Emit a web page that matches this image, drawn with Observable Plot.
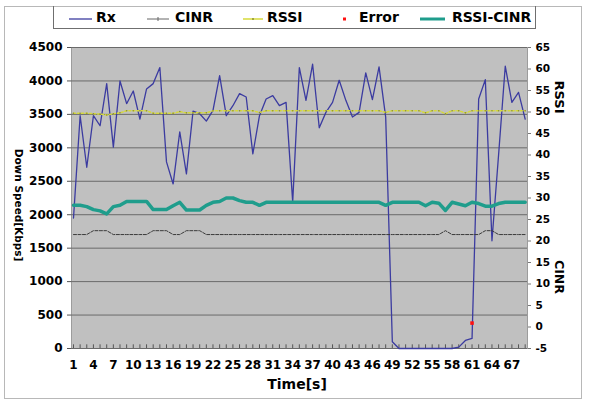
<!DOCTYPE html>
<html><head><meta charset="utf-8">
<script src="https://cdn.jsdelivr.net/npm/d3@7"></script>
<script src="https://cdn.jsdelivr.net/npm/@observablehq/plot@0.6"></script>
<style>
body{margin:0;background:#fff;}
#wrap{position:relative;width:594px;height:408px;font-family:"DejaVu Sans",sans-serif;font-weight:bold;color:#000;overflow:hidden;}
#chart svg{position:absolute;left:0;top:0;}
.outer{position:absolute;left:4px;top:6px;width:578px;height:393px;border:1.5px solid #b8b8b8;box-sizing:border-box;pointer-events:none;}
#legend{position:absolute;left:53px;top:6px;width:483px;height:23px;border:1px solid #6f6f6f;border-top:none;box-sizing:border-box;}
.li{position:absolute;top:0;height:22px;display:flex;align-items:center;font-size:14px;line-height:1;white-space:nowrap;}
.sw{position:absolute;top:10px;}
.t{position:absolute;white-space:nowrap;line-height:1;}
</style></head>
<body>
<div id="wrap">
  <div id="chart"></div>
  <div class="outer"></div>
  <div id="legend"></div>
  <div class="t" id="ylab" style="left:19px;top:205px;font-size:10.5px;transform:translate(-50%,-50%) rotate(90deg);">Down Speed[Kbps]</div>
  <div class="t" style="left:559px;top:97px;font-size:13px;transform:translate(-50%,-50%) rotate(90deg);">RSSI</div>
  <div class="t" style="left:559px;top:277px;font-size:12.5px;transform:translate(-50%,-50%) rotate(90deg);">CINR</div>
  <div class="t" style="left:297px;top:384px;font-size:14px;transform:translate(-50%,-50%);">Time[s]</div>
</div>
<script>
// ---- data ----
const rx = [1950, 3480, 2710, 3480, 3330, 3960, 3010, 4000, 3660, 3850,
  3430, 3880, 3960, 4200, 2790, 2460, 3240, 2610, 3550, 3510,
  3400, 3560, 4080, 3480, 3630, 3810, 3760, 2910, 3480, 3730,
  3780, 3630, 3680, 2190, 4200, 3710, 4250, 3300, 3530, 3680,
  4010, 3710, 3460, 3530, 4120, 3720, 4210, 3460, 100, 0,
  0, 0, 0, 0, 0, 0, 0, 0, 20, 120,
  150, 3730, 4020, 1610, 2900, 4220, 3680, 3830, 3430];
const cinr = [21.5, 21.5, 21.5, 22.4, 22.4, 22.4, 21.5, 21.5, 21.5, 21.5,
  21.5, 21.5, 22.4, 22.4, 22.4, 21.5, 21.5, 22.4, 22.4, 22.4,
  21.5, 21.5, 21.5, 21.5, 21.5, 21.5, 21.5, 21.5, 21.5, 21.5,
  21.5, 21.5, 21.5, 21.5, 21.5, 21.5, 21.5, 21.5, 21.5, 21.5,
  21.5, 21.5, 21.5, 21.5, 21.5, 21.5, 21.5, 21.5, 21.5, 21.5,
  21.5, 21.5, 21.5, 21.5, 21.5, 21.5, 22.4, 21.5, 21.5, 21.5,
  21.5, 21.5, 22.4, 22.4, 21.5, 21.5, 21.5, 21.5, 21.5];
const rssi = [49.7, 49.7, 49.7, 49.6, 49.5, 49.3, 49.6, 49.8, 50.3, 50.3,
  50.3, 50.3, 49.7, 49.7, 49.7, 49.7, 50.1, 49.8, 49.8, 49.8,
  49.8, 50.3, 50.3, 50.3, 50.3, 50.3, 50.3, 50.3, 49.9, 50.3,
  50.3, 50.3, 50.3, 50.3, 50.3, 50.3, 50.3, 50.3, 50.3, 50.3,
  50.3, 50.3, 50.3, 50.3, 50.3, 50.3, 50.3, 49.9, 50.3, 50.3,
  50.3, 50.3, 50.3, 49.8, 50.3, 50.3, 49.6, 50.3, 50.3, 49.8,
  50.3, 50.3, 50.3, 50.3, 50.3, 50.3, 50.3, 50.3, 50.3];
const rssiCinr = [28.3, 28.3, 28.0, 27.3, 27.0, 26.3, 28.0, 28.3, 29.2, 29.2,
  29.2, 29.2, 27.3, 27.3, 27.3, 28.2, 29.0, 27.2, 27.2, 27.2,
  28.3, 29.0, 29.2, 30.0, 30.0, 29.4, 29.0, 29.0, 28.3, 29.0,
  29.0, 29.0, 29.0, 29.0, 29.0, 29.0, 29.0, 29.0, 29.0, 29.0,
  29.0, 29.0, 29.0, 29.0, 29.0, 29.0, 29.0, 28.3, 29.0, 29.0,
  29.0, 29.0, 29.0, 28.2, 29.0, 28.8, 27.1, 29.0, 28.6, 28.2,
  29.0, 28.7, 28.1, 28.1, 28.7, 29.0, 29.0, 29.0, 29.0];
const errorTime = [61];
const errorValue = [380];
const xTickLabels = [1, 4, 7, 10, 13, 16, 19, 22, 25, 28, 31, 34, 37, 40, 43, 46, 49, 52, 55, 58, 61, 64, 67];
const leftTicks = [0, 500, 1000, 1500, 2000, 2500, 3000, 3500, 4000, 4500];
const rightTicks = [-5, 0, 5, 10, 15, 20, 25, 30, 35, 40, 45, 50, 55, 60, 65];
const seriesNames = ["Rx", "CINR", "RSSI", "Error", "RSSI-CINR"];

// ---- build ----
const leftMax = 4500, rightMin = -5, rightMax = 65;
const toLeft = v => (v - rightMin) * leftMax / (rightMax - rightMin);
const fromLeft = d => d * (rightMax - rightMin) / leftMax + rightMin;
const rows = rx.map((v, k) => ({t: k + 1, rx: v, cinr: cinr[k], rssi: rssi[k], diff: rssiCinr[k]}));
const errors = errorTime.map((t, k) => ({t, v: errorValue[k]}));
const times = rows.map(d => d.t);

const C = {rx: "#3b3ba0", cinr: "#3a3a3a", rssi: "#d6da3a", err: "#ff1010", diff: "#1f9d8c"};

const plot = Plot.plot({
  width: 594, height: 408,
  marginLeft: 71, marginRight: 67, marginTop: 47, marginBottom: 60,
  style: {background: "transparent", fontFamily: "DejaVu Sans", fontWeight: "bold", color: "#000"},
  x: {domain: [0.7, 69.35]},
  y: {domain: [0, leftMax]},
  marks: [
    Plot.frame({fill: "#c0c0c0", stroke: "#9c9c9c"}),
    Plot.gridY(leftTicks, {stroke: "#6a6a6a", strokeOpacity: 1, strokeWidth: 1}),
    Plot.ruleX(times, {x: d => d, y1: 0, y2: 55, stroke: "#555"}),
    Plot.axisY(leftTicks, {anchor: "left", tickSize: 4, tickPadding: 5, fontSize: 12, label: null, stroke: "#555",
      tickFormat: d => String(d)}),
    Plot.axisY(rightTicks.map(toLeft), {anchor: "right", tickSize: 3, tickPadding: 5, fontSize: 10.5, label: null, stroke: "#777",
      tickFormat: d => String(Math.round(fromLeft(d)))}),
    Plot.axisX(xTickLabels, {anchor: "bottom", tickSize: 0, tickPadding: 12, fontSize: 12, label: null,
      tickFormat: d => String(d)}),
    Plot.line(rows, {x: "t", y: "rx", stroke: C.rx, strokeWidth: 1.3}),
    Plot.line(rows, {x: "t", y: d => toLeft(d.cinr), stroke: C.cinr, strokeWidth: 1, strokeDasharray: "3,1.5"}),
    Plot.line(rows, {x: "t", y: d => toLeft(d.rssi), stroke: C.rssi, strokeWidth: 1.5, strokeDasharray: "2,2"}),
    Plot.dot(rows, {x: "t", y: d => toLeft(d.rssi), r: 0.8, fill: "#8e9030", stroke: "none"}),
    Plot.line(rows, {x: "t", y: d => toLeft(d.diff), stroke: C.diff, strokeWidth: 3.5, strokeLinejoin: "round"}),
    Plot.dot(errors, {x: "t", y: "v", r: 2, fill: C.err, stroke: "none", symbol: "square"})
  ]
});
document.getElementById("chart").appendChild(plot);

// ---- legend ----
const legend = document.getElementById("legend");
const items = [
  {name: seriesNames[0], sx: 15, sw: 23, tx: 42, draw: `<line x1="0" y1="3" x2="23" y2="3" stroke="${C.rx}" stroke-width="1.3"/>`},
  {name: seriesNames[1], sx: 93, sw: 22, tx: 121, draw: `<line x1="0" y1="3" x2="22" y2="3" stroke="#666" stroke-width="1"/><line x1="11" y1="1" x2="11" y2="5" stroke="#666"/>`},
  {name: seriesNames[2], sx: 189, sw: 20, tx: 213, draw: `<line x1="0" y1="3" x2="20" y2="3" stroke="${C.rssi}" stroke-width="1.5"/><circle cx="10" cy="3" r="1" fill="#8e9030"/>`},
  {name: seriesNames[3], sx: 288, sw: 6, tx: 305, draw: `<rect x="1" y="1.5" width="3" height="3" fill="${C.err}"/>`},
  {name: seriesNames[4], sx: 366, sw: 25, tx: 398, draw: `<line x1="0" y1="3" x2="25" y2="3" stroke="${C.diff}" stroke-width="3"/>`}
];
for (const it of items) {
  const s = document.createElement("div");
  s.className = "sw";
  s.style.left = it.sx + "px";
  s.innerHTML = `<svg width="${it.sw}" height="6" style="display:block">${it.draw}</svg>`;
  legend.appendChild(s);
  const t = document.createElement("div");
  t.className = "li";
  t.style.left = it.tx + "px";
  t.textContent = it.name;
  legend.appendChild(t);
}
</script>
</body></html>
